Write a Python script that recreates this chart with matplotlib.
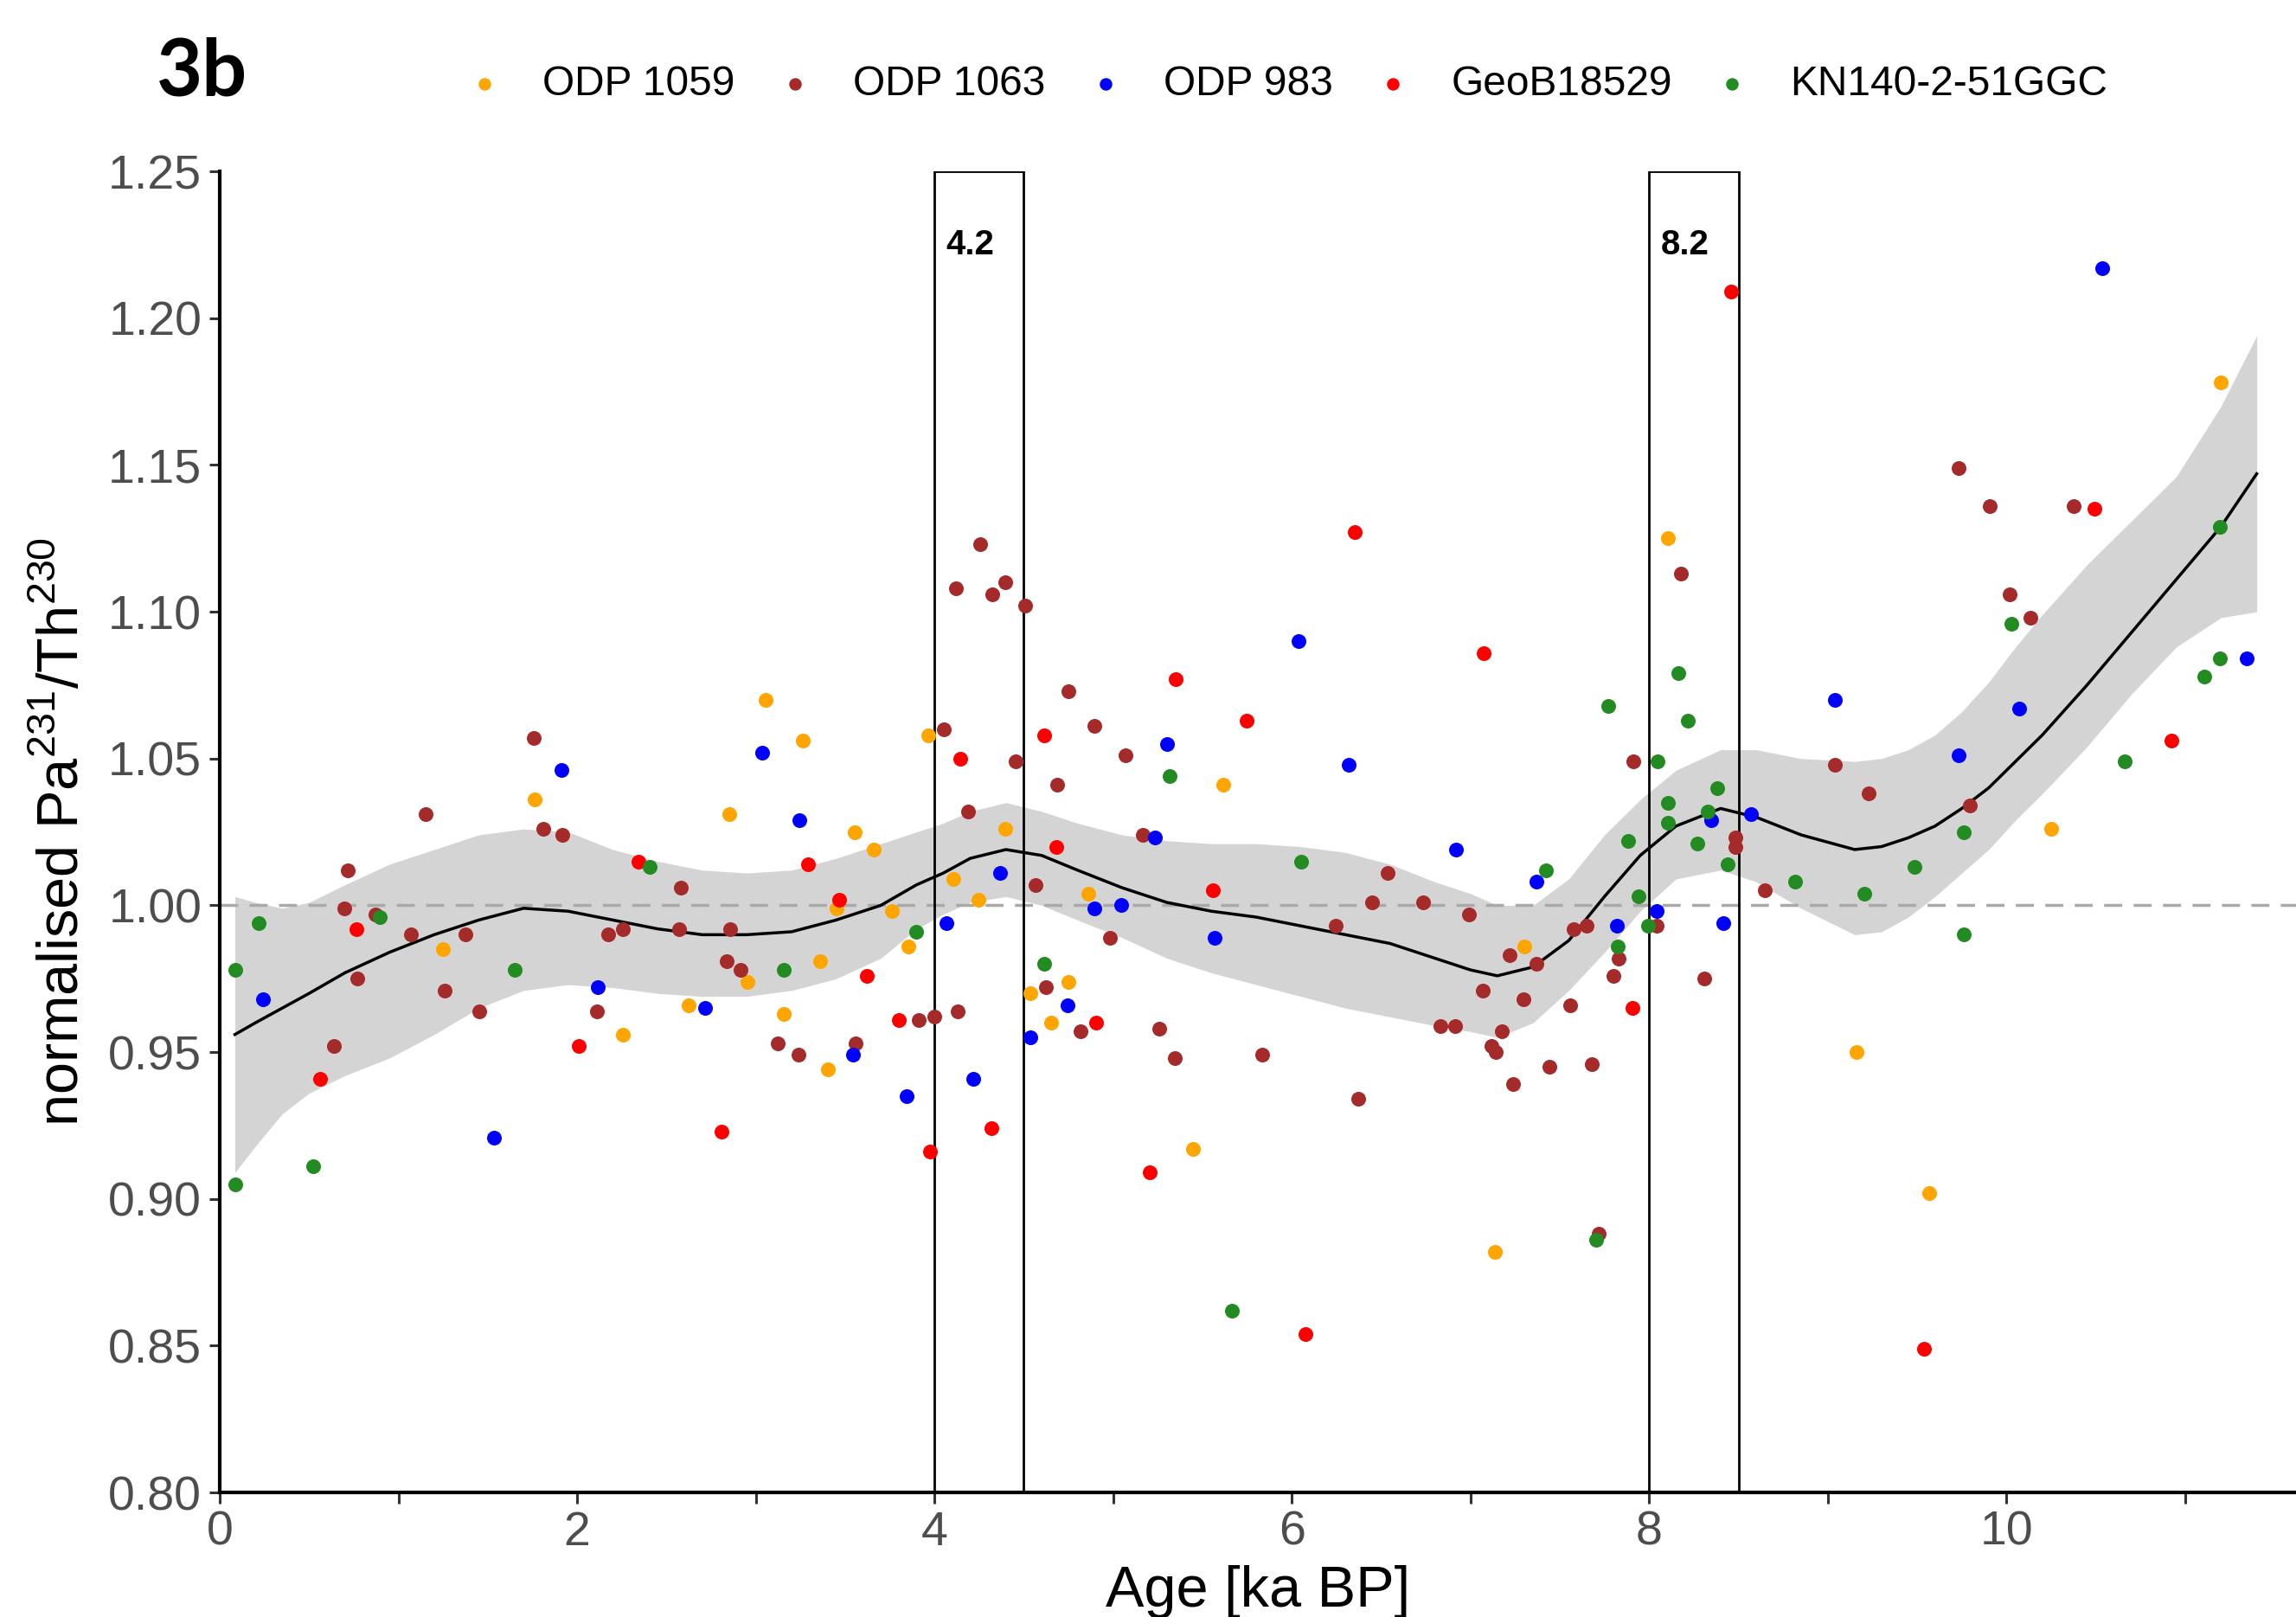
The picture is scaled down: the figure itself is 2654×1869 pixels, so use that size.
import numpy as np
import matplotlib
matplotlib.use("Agg")
import matplotlib.pyplot as plt
from matplotlib.patches import Rectangle

plt.rcParams['font.family'] = ['Liberation Sans', 'DejaVu Sans']

# ---- data ----
odp1059_age = [1.248, 1.764, 2.258, 2.626, 2.854, 2.955, 3.056, 3.157, 3.261, 3.358, 3.403,
               3.454, 3.555, 3.661, 3.763, 3.854, 3.964, 4.106, 4.245, 4.397, 4.536, 4.653,
               4.749, 4.861, 5.448, 5.618, 7.138, 7.300, 8.106, 9.159, 9.569, 10.249, 11.201]
odp1059_val = [0.985, 1.036, 0.956, 0.966, 1.031, 0.974, 1.070, 0.963, 1.056, 0.981, 0.944,
               0.999, 1.025, 1.019, 0.998, 0.986, 1.058, 1.009, 1.002, 1.026, 0.970, 0.960,
               0.974, 1.004, 0.917, 1.041, 0.882, 0.986, 1.125, 0.950, 0.902, 1.026, 1.178]

odp1063_age = [0.640, 0.695, 0.718, 0.771, 0.870, 1.070, 1.151, 1.258, 1.377, 1.453, 1.757,
               1.812, 1.916, 2.111, 2.175, 2.258, 2.570, 2.582, 2.836, 2.856, 2.917, 3.122,
               3.241, 3.560, 3.913, 3.997, 4.053, 4.121, 4.129, 4.187, 4.255, 4.326, 4.397,
               4.455, 4.509, 4.564, 4.625, 4.688, 4.752, 4.818, 4.896, 4.980, 5.071, 5.167,
               5.258, 5.347, 5.836, 6.246, 6.370, 6.451, 6.537, 6.735, 6.834, 6.912, 6.991,
               7.067, 7.115, 7.143, 7.176, 7.219, 7.237, 7.297, 7.371, 7.444, 7.556, 7.579,
               7.649, 7.680, 7.720, 7.801, 7.831, 7.913, 8.042, 8.176, 8.310, 8.484, 8.484,
               8.645, 9.038, 9.229, 9.730, 9.795, 9.904, 10.019, 10.133, 10.376]
odp1063_val = [0.952, 0.999, 1.012, 0.975, 0.997, 0.990, 1.031, 0.971, 0.990, 0.964, 1.057,
               1.026, 1.024, 0.964, 0.990, 0.992, 0.992, 1.006, 0.981, 0.992, 0.978, 0.953,
               0.949, 0.953, 0.961, 0.962, 1.060, 1.108, 0.964, 1.032, 1.123, 1.106, 1.110,
               1.049, 1.102, 1.007, 0.972, 1.041, 1.073, 0.957, 1.061, 0.989, 1.051, 1.024,
               0.958, 0.948, 0.949, 0.993, 0.934, 1.001, 1.011, 1.001, 0.959, 0.959, 0.997,
               0.971, 0.952, 0.950, 0.957, 0.983, 0.939, 0.968, 0.980, 0.945, 0.966, 0.992,
               0.993, 0.946, 0.888, 0.976, 0.982, 1.049, 0.993, 1.113, 0.975, 1.023, 1.020,
               1.005, 1.048, 1.038, 1.149, 1.034, 1.136, 1.106, 1.098, 1.136]

odp983_age = [0.240, 1.536, 1.911, 2.116, 2.717, 3.036, 3.244, 3.545, 3.843, 4.068, 4.217,
              4.369, 4.536, 4.744, 4.894, 5.043, 5.233, 5.304, 5.570, 6.036, 6.320, 6.920,
              7.368, 7.818, 8.042, 8.345, 8.417, 8.571, 9.038, 9.733, 10.071, 10.537, 11.345]
odp983_val = [0.968, 0.921, 1.046, 0.972, 0.965, 1.052, 1.029, 0.949, 0.935, 0.994, 0.941,
              1.011, 0.955, 0.966, 0.999, 1.000, 1.023, 1.055, 0.989, 1.090, 1.048, 1.019,
              1.008, 0.993, 0.998, 1.029, 0.994, 1.031, 1.070, 1.051, 1.067, 1.217, 1.084]

geob_age = [0.564, 0.764, 2.010, 2.342, 2.808, 3.292, 3.469, 3.621, 3.800, 3.974, 4.146,
            4.321, 4.612, 4.683, 4.906, 5.205, 5.352, 5.560, 5.747, 6.076, 6.350, 7.072,
            7.908, 8.457, 9.539, 10.490, 10.925]
geob_val = [0.941, 0.992, 0.952, 1.015, 0.923, 1.014, 1.002, 0.976, 0.961, 0.916, 1.050,
            0.924, 1.058, 1.020, 0.960, 0.909, 1.077, 1.005, 1.063, 0.854, 1.127, 1.086,
            0.965, 1.209, 0.849, 1.135, 1.056]

kn140_age = [0.085, 0.085, 0.217, 0.521, 0.896, 1.650, 2.405, 3.157, 3.897, 4.615, 5.317,
             5.666, 6.054, 7.424, 7.703, 7.772, 7.826, 7.883, 7.938, 7.992, 8.049, 8.104,
             8.104, 8.161, 8.218, 8.270, 8.327, 8.382, 8.437, 8.819, 9.202, 9.485, 9.760,
             9.760, 10.029, 10.659, 11.109, 11.196, 11.196]
kn140_val = [0.978, 0.905, 0.994, 0.911, 0.996, 0.978, 1.013, 0.978, 0.991, 0.980, 1.044,
             0.862, 1.015, 1.012, 0.886, 1.068, 0.986, 1.022, 1.003, 0.993, 1.049, 1.035,
             1.028, 1.079, 1.063, 1.021, 1.032, 1.040, 1.014, 1.008, 1.004, 1.013, 1.025,
             0.990, 1.096, 1.049, 1.078, 1.084, 1.129]

# smoothed fit and its confidence band
fit_age = [0.085, 0.2, 0.35, 0.5, 0.7, 0.95, 1.2, 1.45, 1.7, 1.95, 2.2, 2.45, 2.7, 2.95, 3.2,
           3.45, 3.7, 3.9, 4.05, 4.2, 4.4, 4.6, 4.8, 5.05, 5.3, 5.55, 5.8, 6.05, 6.3, 6.55,
           6.8, 7.0, 7.15, 7.35, 7.55, 7.75, 7.95, 8.15, 8.4, 8.6, 8.85, 9.15, 9.3, 9.45,
           9.6, 9.75, 9.9, 10.05, 10.2, 10.45, 10.7, 10.95, 11.2, 11.4]
fit_val = [0.956, 0.960, 0.965, 0.970, 0.977, 0.984, 0.990, 0.995, 0.999, 0.998, 0.995,
           0.992, 0.990, 0.990, 0.991, 0.995, 1.000, 1.007, 1.011, 1.016, 1.019, 1.017,
           1.012, 1.006, 1.001, 0.998, 0.996, 0.993, 0.990, 0.987, 0.982, 0.978, 0.976,
           0.979, 0.988, 1.003, 1.017, 1.027, 1.033, 1.030, 1.024, 1.019, 1.020, 1.023,
           1.027, 1.033, 1.040, 1.049, 1.058, 1.075, 1.093, 1.111, 1.129, 1.147]
fit_hi = [1.003, 1.001, 0.999, 1.001, 1.007, 1.014, 1.019, 1.024, 1.026, 1.025, 1.019,
          1.015, 1.012, 1.011, 1.012, 1.016, 1.021, 1.025, 1.028, 1.032, 1.035, 1.032,
          1.028, 1.024, 1.022, 1.021, 1.021, 1.020, 1.018, 1.014, 1.008, 1.004, 1.000,
          1.000, 1.009, 1.024, 1.036, 1.046, 1.053, 1.053, 1.050, 1.049, 1.050, 1.053,
          1.058, 1.066, 1.076, 1.088, 1.099, 1.116, 1.131, 1.146, 1.170, 1.194]
fit_lo = [0.909, 0.918, 0.929, 0.936, 0.942, 0.948, 0.956, 0.965, 0.971, 0.973, 0.972,
          0.970, 0.969, 0.969, 0.971, 0.975, 0.982, 0.992, 0.997, 1.001, 1.003, 1.000,
          0.995, 0.989, 0.982, 0.977, 0.973, 0.969, 0.965, 0.962, 0.959, 0.957, 0.955,
          0.960, 0.971, 0.984, 0.998, 1.009, 1.012, 1.008, 0.999, 0.990, 0.991, 0.996,
          1.003, 1.011, 1.019, 1.029, 1.038, 1.054, 1.072, 1.088, 1.098, 1.100]

event_start = [4.0, 8.0]
event_width = 0.5
event_label = ['4.2', '8.2']

series = [
    ('ODP 1059', odp1059_age, odp1059_val, 'orange'),
    ('ODP 1063', odp1063_age, odp1063_val, 'brown'),
    ('ODP 983', odp983_age, odp983_val, 'blue'),
    ('GeoB18529', geob_age, geob_val, 'red'),
    ('KN140-2-51GGC', kn140_age, kn140_val, 'forestgreen'),
]

fig = plt.figure(figsize=(26.54, 18.69), dpi=100)
ax = fig.add_axes([0.0957, 0.0770, 0.9043, 0.8170])

ax.fill_between(fit_age, fit_lo, fit_hi, color='#d4d4d4', lw=0, zorder=1)
ax.axhline(1.0, color='#a9a9a9', lw=2.5, ls=(0, (6, 3.8)), zorder=1.5)
ax.plot(fit_age, fit_val, color='black', lw=2.5, zorder=2)

for x0, lab in zip(event_start, event_label):
    ax.add_patch(Rectangle((x0, 0.80), event_width, 0.45, fill=False,
                           ec='black', lw=2.0, zorder=2))
    ax.text(x0 + 0.2, 1.225, lab, ha='center', va='center',
            fontsize=29, fontweight='bold', zorder=4)

for name, xs, ys, col in series:
    ax.scatter(xs, ys, s=150, color=col, lw=0, label=name, zorder=3)

ax.set_xlim(0, 11.62)
ax.set_ylim(0.80, 1.25)
ax.set_xticks([0, 2, 4, 6, 8, 10])
ax.set_xticks([1, 3, 5, 7, 9, 11], minor=True)
ax.set_yticks(np.round(np.arange(0.80, 1.2501, 0.05), 2))
ax.yaxis.set_major_formatter(plt.FormatStrFormatter('%.2f'))

for s in ['top', 'right']:
    ax.spines[s].set_visible(False)
for s in ['left', 'bottom']:
    ax.spines[s].set_linewidth(3.0)
    ax.spines[s].set_color('black')

ax.tick_params(axis='both', which='both', length=9, width=2.2, color='#333333',
               labelsize=40, labelcolor='#4d4d4d', pad=6)

ax.set_xlabel('Age [ka BP]', fontsize=48, labelpad=8)
ax.set_ylabel('normalised Pa$^{\\mathregular{231}}$/Th$^{\\mathregular{230}}$',
              fontsize=48, labelpad=14)

fig.text(0.068, 0.955, '3b', fontsize=66, fontweight='bold', family='Lato',
         va='center', ha='left')

fig.legend(loc='center', bbox_to_anchor=(0.560, 0.948), ncol=5, frameon=False,
           fontsize=34.5, markerscale=0.85, handletextpad=0.9, columnspacing=0.95,
           handlelength=1.0)

fig.savefig('out.png', dpi=100)
